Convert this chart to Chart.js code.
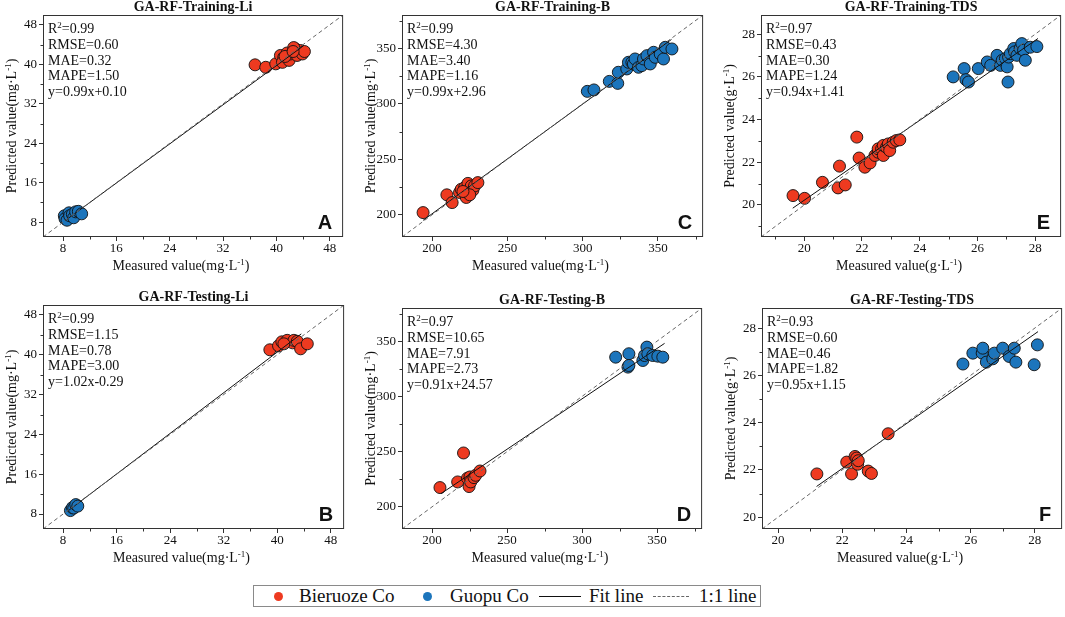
<!DOCTYPE html>
<html>
<head>
<meta charset="utf-8">
<script src="https://cdn.jsdelivr.net/npm/chart.js@4.4.1/dist/chart.umd.min.js"></script>
<style>
    body { margin: 0; background: #fff; width: 1065px; height: 617px; position: relative; overflow: hidden;
           font-family: "Liberation Serif", "Times New Roman", serif; }
    canvas { position: absolute; }
    #legend { position: absolute; left: 253px; top: 585px; width: 506px; height: 20px;
              border: 1px solid #8a8a8a; font-size: 19px; color: #111; }
    #legend span { position: absolute; }
    #legend .txt { top: -2px; line-height: 24px; white-space: nowrap; }
    #legend .dot { top: 6px; width: 9px; height: 9px; border-radius: 50%; }
    #legend .solid { top: 10px; height: 0; border-top: 1px solid #111; }
    #legend .dash { top: 10px; height: 0; border-top: 1px dashed #666; }
</style>
</head>
<body>

<canvas id="cA"></canvas>
<canvas id="cC"></canvas>
<canvas id="cE"></canvas>
<canvas id="cB"></canvas>
<canvas id="cD"></canvas>
<canvas id="cF"></canvas>

<div id="legend">
    <span class="dot" style="left:20px;background:#EE3A20"></span><span class="txt" style="left:45px">Bieruoze Co</span>
    <span class="dot" style="left:169px;background:#1C75BC"></span><span class="txt" style="left:196px">Guopu Co</span>
    <span class="solid" style="left:285px;width:42px"></span><span class="txt" style="left:335px">Fit line</span>
    <span class="dash" style="left:399px;width:36px"></span><span class="txt" style="left:445px">1:1 line</span>
</div>

<script>
// --- data: [measured, predicted] ---
const trainLiRed = [[36.8,39.9],[38.4,39.4],[39.9,40.1],[40.6,41.8],[41.1,41.4],[40.9,40.4],[41.9,40.8],[42.1,42.1],[41.6,42.3],
    [42.9,43.1],[43.6,42.8],[43.1,41.8],[43.9,42.1],[42.6,43.4],[44.2,42.6],[41.3,41.6],[42.5,42.6]];
const trainLiBlue = [[8.2,9.3],[8.3,8.7],[8.6,8.4],[8.9,9.9],[9.0,9.3],[9.4,9.6],[9.6,8.9],[9.9,10.1],[10.3,10.2],[10.8,9.7]];

const testLiRed = [[38.9,41.0],[40.2,41.8],[40.7,42.6],[41.5,42.9],[42.3,42.4],[42.5,42.9],[43.0,42.7],[43.5,41.2],[44.5,42.2],[41.0,42.2]];
const testLiBlue = [[9.1,8.7],[9.4,9.3],[9.6,9.2],[9.9,9.9],[10.2,9.6]];

const trainBRed = [[194,202],[209.8,218],[213.3,211],[218.2,220.1],[219.3,223],[221.6,224.5],[222.7,215.6],[223.8,228.3],
    [224.9,220],[226,226],[227.1,222.2],[228.2,226],[230.4,229],[225,218],[220.5,221]];
const trainBBlue = [[303.1,311.2],[307.5,312.5],[317.7,320.2],[323.3,318.4],[323.7,328.4],[329.3,331.4],[330.4,337.4],
    [332.7,337.4],[333.7,335.9],[334.8,340.4],[337.1,332.9],[339.3,334.4],[340.4,340.4],[342.7,343.4],[344.9,335.9],
    [347.1,346.4],[348.2,341.9],[351.5,344.9],[353.7,340.4],[354.9,350.9],[359.3,349.4]];

const testBRed = [[205.3,217.5],[217.1,222.6],[221,248.8],[223.6,226],[224.7,218.4],[225.3,227.1],[225.8,222.6],
    [228,226.5],[229.1,228.6],[232,232.5]];
const testBBlue = [[322.4,335.5],[330.6,326.5],[331.2,338.6],[331.2,328],[340.5,332.5],[341.6,337],[343.2,344.6],
    [343.8,338.6],[347.1,337],[350.5,336.4],[353.8,335.5]];

const trainTdsRed = [[19.61,20.44],[20.01,20.31],[20.63,21.06],[21.17,20.8],[21.42,20.94],[21.22,21.82],[21.82,23.18],
    [21.9,22.2],[22.1,21.77],[22.28,21.97],[22.45,22.32],[22.56,22.47],[22.56,22.63],[22.68,22.63],[22.74,22.32],
    [22.74,22.79],[22.85,22.7],[22.91,22.86],[22.96,22.55],[23.08,22.94],[23.19,23.02],[23.31,23.05]];
const trainTdsBlue = [[25.16,26.0],[25.54,26.39],[25.6,25.87],[25.69,25.76],[26.03,26.39],[26.34,26.7],[26.46,26.54],
    [26.68,27.01],[26.8,26.54],[26.86,26.78],[26.97,26.86],[27.03,26.47],[27.06,25.76],[27.08,26.93],[27.14,27.09],
    [27.26,27.33],[27.29,27.17],[27.37,27.01],[27.48,27.33],[27.54,27.56],[27.6,27.25],[27.66,26.78],[27.83,27.39],[28.06,27.42]];

const testTdsRed = [[21.21,21.83],[22.14,22.33],[22.29,21.83],[22.4,22.57],[22.45,22.5],[22.48,22.24],[22.5,22.39],
    [22.81,21.95],[22.91,21.85],[23.43,23.53]];
const testTdsBlue = [[25.76,26.48],[26.07,26.94],[26.36,26.94],[26.38,27.15],[26.49,26.56],[26.69,26.7],[26.74,26.94],
    [27.0,27.15],[27.2,26.8],[27.36,27.15],[27.41,26.56],[27.98,26.45],[28.08,27.29]];

// fit line end points as drawn
const trainLiFit = [[8.3,8.3],[44.0,43.7]];
const testLiFit = [[8.8,8.7],[43.6,44.2]];
const trainBFit = [[194,195],[359,358]];
const testBFit = [[206,212],[355,348]];
const trainTdsFit = [[19.6,19.85],[28.1,27.8]];
const testTdsFit = [[21.2,21.3],[28.1,27.85]];

// R2, RMSE, MAE, MAPE, equation
const trainLiStats = ['0.99', '0.60', '0.32', '1.50', 'y=0.99x+0.10'];
const testLiStats = ['0.99', '1.15', '0.78', '3.00', 'y=1.02x-0.29'];
const trainBStats = ['0.99', '4.30', '3.40', '1.16', 'y=0.99x+2.96'];
const testBStats = ['0.97', '10.65', '7.91', '2.73', 'y=0.91x+24.57'];
const trainTdsStats = ['0.97', '0.43', '0.30', '1.24', 'y=0.94x+1.41'];
const testTdsStats = ['0.93', '0.60', '0.46', '1.82', 'y=0.95x+1.15'];

// axis ranges and tick labels
const liRange = [5, 50];
const liTicks = [8, 16, 24, 32, 40, 48];
const bRange = [180, 380];
const bTicks = [200, 250, 300, 350];
const trainTdsRange = [18.5, 28.9];
const testTdsRange = [19.5, 28.85];
const tdsTicks = [20, 22, 24, 26, 28];

const RED = '#EE3A20';
const BLUE = '#1C75BC';
const SERIF = '"Liberation Serif", "Times New Roman", serif';

const panels = [
    { canvas: 'cA', letter: 'A', title: 'GA-RF-Training-Li', unit: 'mg', rect: [43, 15, 344, 237],
      range: liRange, ticks: liTicks, red: trainLiRed, blue: trainLiBlue, fit: trainLiFit, stats: trainLiStats },
    { canvas: 'cC', letter: 'C', title: 'GA-RF-Training-B', unit: 'mg', rect: [402, 15, 704, 237],
      range: bRange, ticks: bTicks, red: trainBRed, blue: trainBBlue, fit: trainBFit, stats: trainBStats },
    { canvas: 'cE', letter: 'E', title: 'GA-RF-Training-TDS', unit: 'g', rect: [761, 15, 1062, 237],
      range: trainTdsRange, ticks: tdsTicks, red: trainTdsRed, blue: trainTdsBlue, fit: trainTdsFit, stats: trainTdsStats },
    { canvas: 'cB', letter: 'B', title: 'GA-RF-Testing-Li', unit: 'mg', rect: [43, 305, 345, 529],
      range: liRange, ticks: liTicks, red: testLiRed, blue: testLiBlue, fit: testLiFit, stats: testLiStats },
    { canvas: 'cD', letter: 'D', title: 'GA-RF-Testing-B', unit: 'mg', rect: [402, 308, 703, 529],
      range: bRange, ticks: bTicks, red: testBRed, blue: testBBlue, fit: testBFit, stats: testBStats },
    { canvas: 'cF', letter: 'F', title: 'GA-RF-Testing-TDS', unit: 'g', rect: [762, 308, 1063, 529],
      range: testTdsRange, ticks: tdsTicks, red: testTdsRed, blue: testTdsBlue, fit: testTdsFit, stats: testTdsStats }
];

const PAD_L = 45, PAD_T = 15, PAD_R = 6, PAD_B = 45;

// draws text with superscript parts: parts = [[text, isSup], ...]
function richText(ctx, parts, x, y, size, align) {
    const base = size + 'px ' + SERIF;
    const small = Math.round(size * 0.62) + 'px ' + SERIF;
    let w = 0;
    parts.forEach(p => { ctx.font = p[1] ? small : base; w += ctx.measureText(p[0]).width; });
    let cx = align === 'center' ? x - w / 2 : x;
    ctx.textAlign = 'left';
    parts.forEach(p => {
        ctx.font = p[1] ? small : base;
        ctx.fillText(p[0], cx, p[1] ? y - size * 0.38 : y);
        cx += ctx.measureText(p[0]).width;
    });
}

function unitParts(label, unit) {
    return [[label + '(' + unit + '\u00B7L', false], ['-1', true], [')', false]];
}

function minorValues(ticks, min, max) {
    const step = ticks[1] - ticks[0];
    const out = ticks.map(v => v - step / 2);
    out.push(ticks[ticks.length - 1] + step / 2);
    return out.filter(v => v > min && v < max);
}

const panelDecor = {
    id: 'panelDecor',
    afterDraw(chart, args, o) {
        const { ctx, chartArea: a } = chart;
        const xs = chart.scales.x, ys = chart.scales.y;
        ctx.save();
        ctx.strokeStyle = '#333';
        ctx.lineWidth = 1;
        ctx.strokeRect(a.left + 0.5, a.top + 0.5, a.right - a.left - 1, a.bottom - a.top - 1);

        // minor ticks
        ctx.beginPath();
        minorValues(o.ticks, o.range[0], o.range[1]).forEach(v => {
            const px = Math.round(xs.getPixelForValue(v)) + 0.5;
            ctx.moveTo(px, a.bottom); ctx.lineTo(px, a.bottom + 2.5);
            const py = Math.round(ys.getPixelForValue(v)) + 0.5;
            ctx.moveTo(a.left, py); ctx.lineTo(a.left - 2.5, py);
        });
        ctx.stroke();

        ctx.fillStyle = '#111';
        ctx.textBaseline = 'alphabetic';
        ctx.font = 'bold 14px ' + SERIF;
        ctx.textAlign = 'center';
        ctx.fillText(o.title, (a.left + a.right) / 2, a.top - 4);

        richText(ctx, unitParts('Measured value', o.unit), (a.left + a.right) / 2 - 12, a.bottom + 33, 14, 'center');

        ctx.save();
        ctx.translate(a.left - 27, (a.top + a.bottom) / 2);
        ctx.rotate(-Math.PI / 2);
        richText(ctx, unitParts('Predicted value', o.unit), 0, 0, 14, 'center');
        ctx.restore();

        // statistics block
        const tx = a.left + 5;
        let ty = a.top + 18;
        const s = o.stats;
        const lines = [
            [['R', false], ['2', true], ['=' + s[0], false]],
            [['RMSE=' + s[1], false]],
            [['MAE=' + s[2], false]],
            [['MAPE=' + s[3], false]],
            [[s[4], false]]
        ];
        lines.forEach(l => { richText(ctx, l, tx, ty, 14, 'left'); ty += 15.8; });

        ctx.font = 'bold 20px "Liberation Sans", Arial, sans-serif';
        ctx.textAlign = 'right';
        ctx.fillText(o.letter, a.right - 11, a.bottom - 8);
        ctx.restore();
    }
};

function toPoints(list) {
    return list.map(p => ({ x: p[0], y: p[1] }));
}

function axis(p, isX) {
    return {
        type: 'linear',
        min: p.range[0],
        max: p.range[1],
        afterFit: s => { if (isX) s.height = PAD_B; else s.width = PAD_L; },
        afterBuildTicks: s => { s.ticks = p.ticks.map(v => ({ value: v })); },
        grid: { display: true, drawOnChartArea: false, drawTicks: true, tickLength: 4, color: '#333', lineWidth: 1 },
        border: { display: false },
        ticks: { font: { family: SERIF, size: 13 }, color: '#111', padding: isX ? 0 : 2, maxRotation: 0, autoSkip: false }
    };
}

panels.forEach(p => {
    const el = document.getElementById(p.canvas);
    const w = p.rect[2] - p.rect[0] + PAD_L + PAD_R;
    const h = p.rect[3] - p.rect[1] + PAD_T + PAD_B;
    el.width = w; el.height = h;
    el.style.width = w + 'px'; el.style.height = h + 'px';
    el.style.left = (p.rect[0] - PAD_L) + 'px';
    el.style.top = (p.rect[1] - PAD_T) + 'px';

    new Chart(el, {
        type: 'scatter',
        data: {
            datasets: [
                { type: 'line', label: '1:1 line', order: 0, data: [{ x: p.range[0], y: p.range[0] }, { x: p.range[1], y: p.range[1] }],
                  borderColor: '#666', borderWidth: 1, borderDash: [4, 3], pointRadius: 0, fill: false },
                { type: 'line', label: 'Fit line', order: 0, data: toPoints(p.fit),
                  borderColor: '#111', borderWidth: 1, pointRadius: 0, fill: false },
                { label: 'Guopu Co', order: 1, data: toPoints(p.blue), backgroundColor: BLUE,
                  borderColor: '#111', borderWidth: 0.9, pointRadius: 6 },
                { label: 'Bieruoze Co', order: 1, data: toPoints(p.red), backgroundColor: RED,
                  borderColor: '#111', borderWidth: 0.9, pointRadius: 6 }
            ]
        },
        options: {
            responsive: false,
            animation: false,
            events: [],
            devicePixelRatio: 1,
            layout: { padding: { left: 0, top: PAD_T, right: PAD_R, bottom: 0 } },
            scales: { x: axis(p, true), y: axis(p, false) },
            plugins: {
                legend: { display: false },
                tooltip: { enabled: false },
                panelDecor: { title: p.title, letter: p.letter, unit: p.unit, stats: p.stats, ticks: p.ticks, range: p.range }
            }
        },
        plugins: [panelDecor]
    });
});
</script>
</body>
</html>
